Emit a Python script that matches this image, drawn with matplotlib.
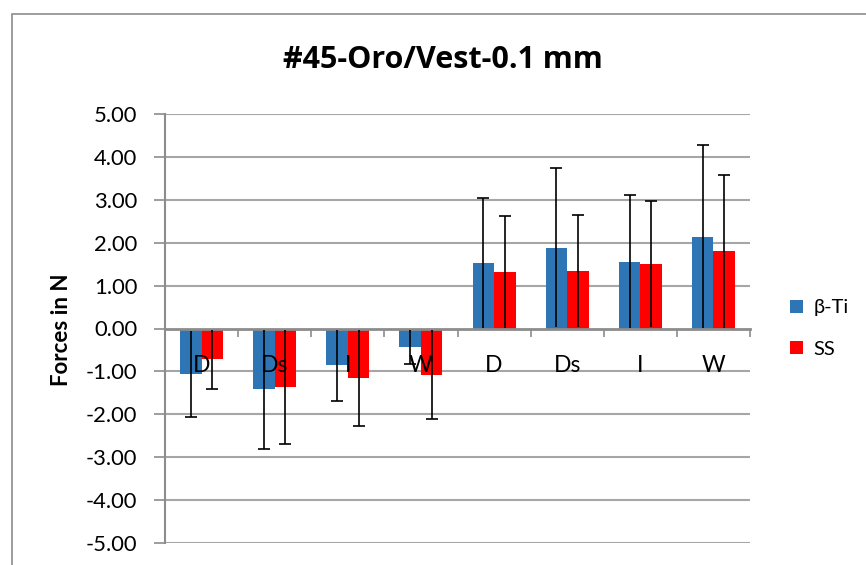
import matplotlib.pyplot as plt
import matplotlib.patches as patches
import numpy as np

# data
categories = ['D', 'Ds', 'I', 'W', 'D', 'Ds', 'I', 'W']
beta_ti = [-1.06, -1.42, -0.86, -0.43, 1.53, 1.88, 1.56, 2.14]
beta_ti_err = [1.01, 1.38, 0.83, 0.39, 1.51, 1.85, 1.55, 2.13]
ss = [-0.72, -1.37, -1.16, -1.08, 1.32, 1.34, 1.51, 1.80]
ss_err = [0.69, 1.33, 1.12, 1.04, 1.30, 1.31, 1.47, 1.78]
yticks = [-5, -4, -3, -2, -1, 0, 1, 2, 3, 4, 5]

colors = {'beta': '#2E75B6', 'ss': '#FF0000', 'grid': '#A6A6A6', 'axis': '#8C8C8C'}
plt.rcParams['font.family'] = ['Lato', 'DejaVu Sans']

W, H = 866, 565
fig = plt.figure(figsize=(W / 100, H / 100), dpi=100)
ax = fig.add_axes([165 / W, 1 - 543 / H, (750 - 165) / W, (543 - 114) / H])
ax.set_axisbelow(False)  # category labels sit on top of the bars

x = np.arange(len(categories)) + 0.5
bw = 0.294
ekw = dict(ecolor='black', elinewidth=1.2, capsize=4.5, capthick=1.2, zorder=3)
for offset, vals, errs, col, lab in [(-bw / 2, beta_ti, beta_ti_err, colors['beta'], '\u03b2-Ti'),
                                     (bw / 2, ss, ss_err, colors['ss'], 'SS')]:
    bc = ax.bar(x + offset, vals, bw, color=col, label=lab, zorder=2,
                yerr=errs, error_kw=ekw)
    # only keep the cap on the outer end of each error bar (inner end sits on zero)
    vals = np.array(vals)
    for cap in bc.errorbar.lines[1]:
        yd = np.asarray(cap.get_ydata())
        keep = np.abs(yd) > np.abs(vals)
        cap.set_markevery(list(np.where(keep)[0]))

# horizontal gridlines
for v in yticks:
    if v != 0:
        ax.axhline(v, color=colors['grid'], linewidth=1.5, zorder=0)

ax.set_xlim(0, len(categories))
ax.set_ylim(-5, 5)
ax.set_yticks(yticks)
ax.set_yticklabels([f'{v:.2f}' for v in yticks])
ax.tick_params(axis='y', direction='out', length=8, width=1.2, color=colors['axis'],
               labelsize=15.8, pad=12)

# category axis crosses at zero
ax.spines['bottom'].set_position(('data', 0))
ax.spines['bottom'].set_color(colors['axis'])
ax.spines['bottom'].set_linewidth(2)
ax.spines['left'].set_color(colors['axis'])
ax.spines['left'].set_linewidth(1.5)
ax.spines['top'].set_visible(False)
ax.spines['right'].set_visible(False)
ax.set_xticks(np.arange(len(categories) + 1))
ax.set_xticklabels([])
ax.set_xticks(x, minor=True)
ax.set_xticklabels(categories, minor=True)
ax.tick_params(axis='x', which='major', direction='out', length=6, width=1.2,
               color=colors['axis'])
ax.tick_params(axis='x', which='minor', length=0, labelsize=16.5, pad=19)

fig.text(443 / W, 1 - 60 / H, '#45-Oro/Vest-0.1 mm', ha='center', va='center',
         fontsize=22, fontweight='bold', family=['Open Sans', 'DejaVu Sans'])
fig.text(62 / W, 1 - 330 / H, 'Forces in N', ha='center', va='center', rotation=90,
         fontsize=16, fontweight='bold')

fig.legend(loc='center left', bbox_to_anchor=(790 / W, 1 - 328.5 / H), frameon=False,
           fontsize=14.5, handlelength=0.65, handleheight=0.65, handletextpad=0.5,
           labelspacing=1.2, borderpad=0, borderaxespad=0)

# chart frame
fig.add_artist(patches.Rectangle((12 / W, -0.1), 1.2, 1 - 14 / H + 0.1,
                                 transform=fig.transFigure, fill=False,
                                 edgecolor=colors['axis'], linewidth=1.2))

fig.savefig('out.png', dpi=100, facecolor='white')
